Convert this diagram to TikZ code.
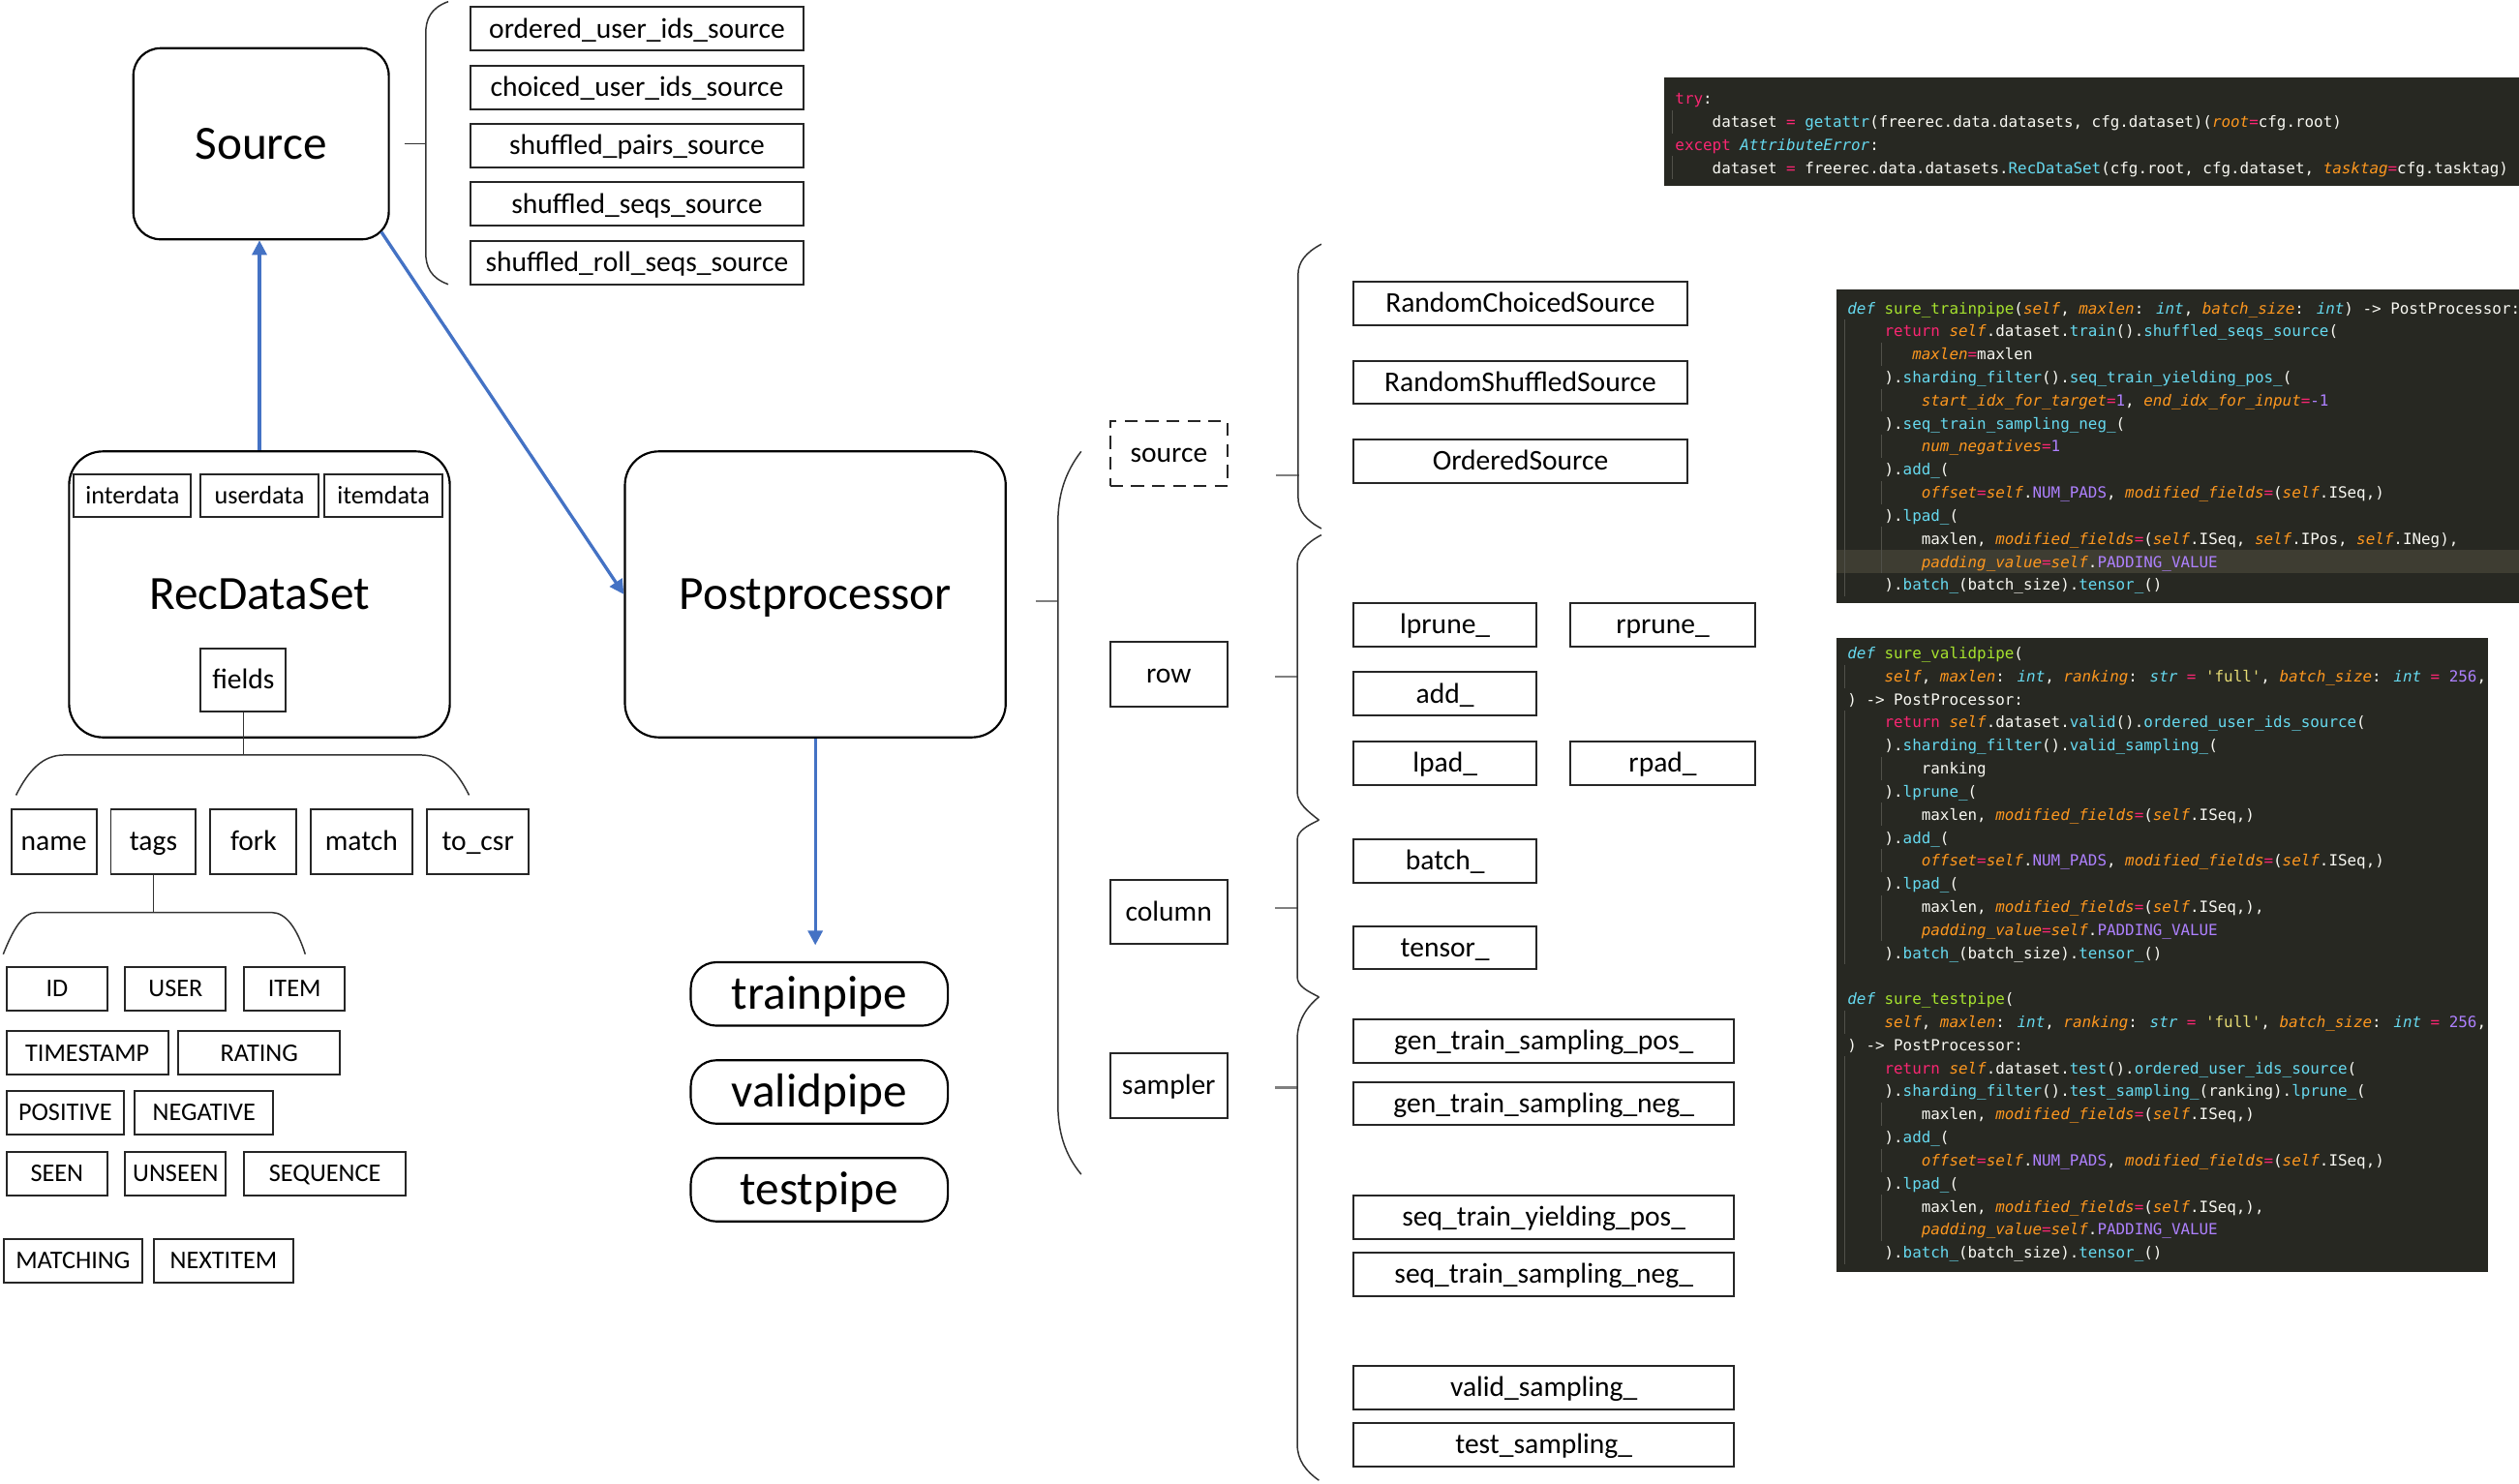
\documentclass[tikz,border=0pt]{standalone}
\usepackage{fontspec}
\setmainfont{Carlito}
\newfontfamily\codefont{DejaVu Sans Mono}
\usetikzlibrary{arrows.meta,calc}
\definecolor{mkbg}{HTML}{272822}
\definecolor{mkfg}{HTML}{F8F8F2}
\definecolor{mkred}{HTML}{F92672}
\definecolor{mkcyan}{HTML}{66D9EF}
\definecolor{mkgreen}{HTML}{A6E22E}
\definecolor{mkorange}{HTML}{FD971F}
\definecolor{mkpurple}{HTML}{AE81FF}
\definecolor{mkyellow}{HTML}{E6DB74}
\definecolor{mkhl}{HTML}{3E3D32}
\definecolor{mkguide}{HTML}{505049}
\definecolor{pblue}{HTML}{4472C4}
\definecolor{tickgray}{HTML}{7F7F7F}
\newcommand\kwR[1]{\textcolor{mkred}{#1}}
\newcommand\kwD[1]{\textcolor{mkcyan}{\itshape #1}}
\newcommand\fnG[1]{\textcolor{mkgreen}{#1}}
\newcommand\prO[1]{\textcolor{mkorange}{\itshape #1}}
\newcommand\mtC[1]{\textcolor{mkcyan}{#1}}
\newcommand\nmP[1]{\textcolor{mkpurple}{#1}}
\newcommand\stY[1]{\textcolor{mkyellow}{#1}}
\newcommand\qs{\textquotesingle}
\newcommand\pone[4]{\node[codetxt] (#1) at ({1042.6+5.761*#3},{64.8+14.4*#2}) {#4};}
\newcommand\ptwo[4]{\node[codetxt] (#1) at ({1149.8+5.761*#3},{195.3+14.35*#2}) {#4};}
\newcommand\pthree[4]{\node[codetxt] (#1) at ({1149.8+5.761*#3},{410.1+14.35*#2}) {#4};}
\newcommand\gone[3]{\draw[guideline] ({1041.1+5.761*#1},{54.1+14.4*#2}) -- ({1041.1+5.761*#1},{68.5+14.4*#3});}
\newcommand\gtwo[3]{\draw[guideline] ({1148.3+5.761*#1},{184.6+14.35*#2}) -- ({1148.3+5.761*#1},{199+14.35*#3});}
\newcommand\gthree[3]{\draw[guideline] ({1148.3+5.761*#1},{399.4+14.35*#2}) -- ({1148.3+5.761*#1},{413.8+14.35*#3});}
\begin{document}
\begin{tikzpicture}[x=1pt,y=-1pt,
  bigbox/.style={draw=black, line width=1.3pt, inner sep=0pt, fill=white,
    font=\fontsize{29.7}{34}\selectfont, text height=18.8pt, text depth=0pt},
  pipebox/.style={bigbox, rounded corners=16pt, minimum width=160pt, minimum height=39.5pt},
  itembox/.style={draw=black!85, line width=1.2pt, inner sep=0pt, fill=white,
    font=\fontsize{17.8}{20}\selectfont, text height=11.2pt, text depth=0pt, minimum height=27pt},
  capbox/.style={draw=black!85, line width=1.2pt, inner sep=0pt, fill=white,
    font=\fontsize{15.8}{18}\selectfont, text height=10pt, text depth=0pt, minimum height=27pt},
  inbox/.style={capbox, font=\fontsize{15.8}{18}\selectfont},
  bracepath/.style={draw=black!80, line width=0.9pt},
  tickline/.style={draw=tickgray, line width=1.3pt},
  barrow/.style={draw=pblue, line width=2pt, -{Triangle[length=9pt,width=9pt]}},
  codetxt/.style={anchor=base west, inner sep=0pt, text=mkfg,
    font=\codefont\fontsize{9.57}{11}\selectfont},
  guideline/.style={draw=mkguide, line width=0.8pt}
]
\useasboundingbox (0,0) rectangle (1568,923.8);

% ---------- Source ----------
\node[bigbox, rounded corners=17pt, minimum width=159pt, minimum height=119pt] (src) at (162.5,89.5) {Source};
\node[itembox, minimum width=207pt] (s1) at (396.5,18) {ordered\_user\_ids\_source};
\node[itembox, minimum width=207pt] (s2) at (396.5,54.3) {choiced\_user\_ids\_source};
\node[itembox, minimum width=207pt] (s3) at (396.5,90.5) {shuffled\_pairs\_source};
\node[itembox, minimum width=207pt] (s4) at (396.5,127) {shuffled\_seqs\_source};
\node[itembox, minimum width=207pt] (s5) at (396.5,163.5) {shuffled\_roll\_seqs\_source};
\draw[bracepath] (279,1) .. controls (268,5) and (265,12) .. (265,21) -- (265,157) .. controls (265,166) and (268,173) .. (279,177);
\draw[draw=black!80, line width=1.1pt] ([xshift=9pt]src.east) -- (265,89.5);

% ---------- RecDataSet ----------
\node[bigbox, rounded corners=21pt, minimum width=237pt, minimum height=178pt] (rec) at (161.5,370) {RecDataSet};
\node[inbox, minimum width=73pt] (inter) at (82.5,308.5) {interdata};
\node[inbox, minimum width=73pt] (userd) at (161.5,308.5) {userdata};
\node[inbox, minimum width=73.5pt] (itemd) at (238.75,308.5) {itemdata};
\node[itembox, minimum width=53pt, minimum height=39.5pt] (fields) at (151.5,423.3) {fields};
\coordinate (fbr) at (151.5,470);
\draw[bracepath] (fields.south) -- (fbr);
\draw[bracepath] (10,495) .. controls (18,479) and (27,470) .. (40,470) -- (262,470) .. controls (275,470) and (284,479) .. (292,495);

\node[itembox, minimum width=53pt, minimum height=40pt] (fname) at (33.5,524) {name};
\node[itembox, minimum width=53pt, minimum height=40pt] (ftags) at (95.5,524) {tags};
\node[itembox, minimum width=53.5pt, minimum height=40pt] (ffork) at (157.8,524) {fork};
\node[itembox, minimum width=63pt, minimum height=40pt] (fmatch) at (225,524) {match};
\node[itembox, minimum width=63pt, minimum height=40pt] (fcsr) at (297.5,524) {to\_csr};
\coordinate (tbr) at (95.5,568);
\draw[bracepath] (ftags.south) -- (tbr);
\draw[bracepath] (2,594) .. controls (8,579) and (14,568) .. (23,568) -- (169,568) .. controls (178,568) and (185,578) .. (190,594);

\node[capbox, minimum width=63pt] (tid) at (35.5,615.5) {ID};
\node[capbox, minimum width=62.6pt] (tuser) at (109.3,615.5) {USER};
\node[capbox, minimum width=62.6pt] (titem) at (183.3,615.5) {ITEM};
\node[capbox, minimum width=100.7pt] (tts) at (54.35,655.5) {TIMESTAMP};
\node[capbox, minimum width=100.8pt] (trat) at (161.4,655.5) {RATING};
\node[capbox, minimum width=73.2pt] (tpos) at (40.6,692.75) {POSITIVE};
\node[capbox, minimum width=86pt] (tneg) at (127,692.75) {NEGATIVE};
\node[capbox, minimum width=63pt] (tseen) at (35.5,730.5) {SEEN};
\node[capbox, minimum width=62.6pt] (tunseen) at (109.3,730.5) {UNSEEN};
\node[capbox, minimum width=100.5pt] (tseq) at (202.25,730.5) {SEQUENCE};
\node[capbox, minimum width=86.4pt] (tmatch) at (45.4,784.75) {MATCHING};
\node[capbox, minimum width=86.4pt] (tnext) at (139.2,784.75) {NEXTITEM};

% ---------- Postprocessor ----------
\node[bigbox, rounded corners=21pt, minimum width=237pt, minimum height=178pt] (post) at (507.5,370) {Postprocessor};
\node[pipebox] (train) at (510,618.75) {trainpipe};
\node[pipebox] (valid) at (510,679.75) {validpipe};
\node[pipebox] (test) at (510,740.6) {testpipe};

% ---------- blue arrows ----------
\draw[barrow] (rec.north) -- (rec.north |- src.south);
\draw[barrow] ([shift={(-5.3,-5.3)}]src.south east) -- (post.west);
\coordinate (tipT) at ($(post.south |- train.north)+(0,-10)$);
\draw[barrow] (post.south) -- (tipT);

% ---------- Postprocessor brace ----------
\draw[tickline] ([shift={(18,4)}]post.east) -- (658.5,374);
\draw[bracepath] (673,281) .. controls (663,294) and (658.5,308) .. (658.5,326) -- (658.5,687) .. controls (658.5,705) and (663,719) .. (673,731);

\node[itembox, dashed, dash pattern=on 8pt off 5pt, minimum width=73pt, minimum height=40pt] (psrc) at (727.6,282.4) {source};
\node[itembox, minimum width=73pt, minimum height=40pt] (prow) at (727.5,419.8) {row};
\node[itembox, minimum width=73pt, minimum height=40pt] (pcol) at (727.5,567.5) {column};
\node[itembox, minimum width=73pt, minimum height=40pt] (psamp) at (727.5,675.8) {sampler};

\draw[tickline] ([shift={(29.5,13.6)}]psrc.east) -- ++(14.5,0);
\draw[tickline] ([shift={(29,1.2)}]prow.east) -- ++(14.5,0);
\draw[tickline] ([shift={(29,-2.3)}]pcol.east) -- ++(14.5,0);
\draw[tickline] ([shift={(29,1.2)}]psamp.east) -- ++(14.5,0);

\draw[bracepath] (822.5,152) .. controls (813,157) and (808,163) .. (808,171) -- (808,309) .. controls (808,318) and (813,324) .. (822.5,329);
\draw[bracepath] (822.5,333) .. controls (813,338) and (807.5,344) .. (807.5,352) -- (807.5,493) .. controls (807.5,500) and (814,505) .. (821,510.5);
\draw[bracepath] (821,510.5) .. controls (814,514) and (807.5,517) .. (807.5,523) -- (807.5,608) .. controls (807.5,614) and (814,617) .. (821,620.6);
\draw[bracepath] (821,620.6) .. controls (813,627) and (807.5,636) .. (807.5,647) -- (807.5,899) .. controls (807.5,909) and (813,916) .. (821,921.5);

\node[itembox, minimum width=207.8pt] (rcs) at (946.4,189) {RandomChoicedSource};
\node[itembox, minimum width=207.8pt] (rss) at (946.4,238) {RandomShuffledSource};
\node[itembox, minimum width=207.8pt] (ords) at (946.4,287) {OrderedSource};

\node[itembox, minimum width=114pt] (lprune) at (899.5,389) {lprune\_};
\node[itembox, minimum width=114.6pt] (rprune) at (1035,389) {rprune\_};
\node[itembox, minimum width=114pt] (addn) at (899.5,432) {add\_};
\node[itembox, minimum width=114pt] (lpad) at (899.5,475) {lpad\_};
\node[itembox, minimum width=114.6pt] (rpad) at (1035,475) {rpad\_};

\node[itembox, minimum width=114pt] (batchn) at (899.5,536) {batch\_};
\node[itembox, minimum width=114pt] (tensorn) at (899.5,590) {tensor\_};

\node[itembox, minimum width=237pt] (gpos) at (961,648) {gen\_train\_sampling\_pos\_};
\node[itembox, minimum width=237pt] (gneg) at (961,687) {gen\_train\_sampling\_neg\_};
\node[itembox, minimum width=237pt] (spos) at (961,757.7) {seq\_train\_yielding\_pos\_};
\node[itembox, minimum width=237pt] (sneg) at (961,793.2) {seq\_train\_sampling\_neg\_};
\node[itembox, minimum width=237pt] (vsamp) at (961,863.6) {valid\_sampling\_};
\node[itembox, minimum width=237pt] (tsamp) at (961,899.4) {test\_sampling\_};

% ---------- code panels ----------
\fill[mkbg] (1036,48) rectangle (1568,116);
\fill[mkbg] (1143,180) rectangle (1568,375.5);
\fill[mkbg] (1143,397) rectangle (1548.5,792);
\fill[mkhl] (1143,342.45) rectangle (1568,356.85);

\gone{0}{1}{1}
\gone{0}{3}{3}
\gtwo{0}{1}{12}
\gtwo{4}{2}{2}
\gtwo{4}{4}{4}
\gtwo{4}{6}{6}
\gtwo{4}{8}{8}
\gtwo{4}{10}{11}
\gthree{0}{1}{1}
\gthree{0}{3}{13}
\gthree{0}{16}{16}
\gthree{0}{18}{26}
\gthree{4}{5}{5}
\gthree{4}{7}{7}
\gthree{4}{9}{9}
\gthree{4}{11}{12}
\gthree{4}{20}{20}
\gthree{4}{22}{22}
\gthree{4}{24}{25}

\pone{a0}{0}{0}{\kwR{try}:}
\pone{a1}{1}{4}{dataset \kwR{=} \mtC{getattr}(freerec.data.datasets, cfg.dataset)(\prO{root}\kwR{=}cfg.root)}
\pone{a2}{2}{0}{\kwR{except} \kwD{AttributeError}:}
\pone{a3}{3}{4}{dataset \kwR{=} freerec.data.datasets.\mtC{RecDataSet}(cfg.root, cfg.dataset, \prO{tasktag}\kwR{=}cfg.tasktag)}

\ptwo{b0}{0}{0}{\kwD{def} \fnG{sure\_trainpipe}(\prO{self}, \prO{maxlen}: \kwD{int}, \prO{batch\_size}: \kwD{int}) -> PostProcessor:}
\ptwo{b1}{1}{4}{\kwR{return} \prO{self}.dataset.\mtC{train}().\mtC{shuffled\_seqs\_source}(}
\ptwo{b2}{2}{7}{\prO{maxlen}\kwR{=}maxlen}
\ptwo{b3}{3}{4}{).\mtC{sharding\_filter}().\mtC{seq\_train\_yielding\_pos\_}(}
\ptwo{b4}{4}{8}{\prO{start\_idx\_for\_target}\kwR{=}\nmP{1}, \prO{end\_idx\_for\_input}\kwR{=}\nmP{-1}}
\ptwo{b5}{5}{4}{).\mtC{seq\_train\_sampling\_neg\_}(}
\ptwo{b6}{6}{8}{\prO{num\_negatives}\kwR{=}\nmP{1}}
\ptwo{b7}{7}{4}{).\mtC{add\_}(}
\ptwo{b8}{8}{8}{\prO{offset}\kwR{=}\prO{self}.\nmP{NUM\_PADS}, \prO{modified\_fields}\kwR{=}(\prO{self}.ISeq,)}
\ptwo{b9}{9}{4}{).\mtC{lpad\_}(}
\ptwo{b10}{10}{8}{maxlen, \prO{modified\_fields}\kwR{=}(\prO{self}.ISeq, \prO{self}.IPos, \prO{self}.INeg),}
\ptwo{b11}{11}{8}{\prO{padding\_value}\kwR{=}\prO{self}.\nmP{PADDING\_VALUE}}
\ptwo{b12}{12}{4}{).\mtC{batch\_}(batch\_size).\mtC{tensor\_}()}

\pthree{c0}{0}{0}{\kwD{def} \fnG{sure\_validpipe}(}
\pthree{c1}{1}{4}{\prO{self}, \prO{maxlen}: \kwD{int}, \prO{ranking}: \kwD{str} \kwR{=} \stY{\qs full\qs}, \prO{batch\_size}: \kwD{int} \kwR{=} \nmP{256},}
\pthree{c2}{2}{0}{) -> PostProcessor:}
\pthree{c3}{3}{4}{\kwR{return} \prO{self}.dataset.\mtC{valid}().\mtC{ordered\_user\_ids\_source}(}
\pthree{c4}{4}{4}{).\mtC{sharding\_filter}().\mtC{valid\_sampling\_}(}
\pthree{c5}{5}{8}{ranking}
\pthree{c6}{6}{4}{).\mtC{lprune\_}(}
\pthree{c7}{7}{8}{maxlen, \prO{modified\_fields}\kwR{=}(\prO{self}.ISeq,)}
\pthree{c8}{8}{4}{).\mtC{add\_}(}
\pthree{c9}{9}{8}{\prO{offset}\kwR{=}\prO{self}.\nmP{NUM\_PADS}, \prO{modified\_fields}\kwR{=}(\prO{self}.ISeq,)}
\pthree{c10}{10}{4}{).\mtC{lpad\_}(}
\pthree{c11}{11}{8}{maxlen, \prO{modified\_fields}\kwR{=}(\prO{self}.ISeq,),}
\pthree{c12}{12}{8}{\prO{padding\_value}\kwR{=}\prO{self}.\nmP{PADDING\_VALUE}}
\pthree{c13}{13}{4}{).\mtC{batch\_}(batch\_size).\mtC{tensor\_}()}

\pthree{d0}{15}{0}{\kwD{def} \fnG{sure\_testpipe}(}
\pthree{d1}{16}{4}{\prO{self}, \prO{maxlen}: \kwD{int}, \prO{ranking}: \kwD{str} \kwR{=} \stY{\qs full\qs}, \prO{batch\_size}: \kwD{int} \kwR{=} \nmP{256},}
\pthree{d2}{17}{0}{) -> PostProcessor:}
\pthree{d3}{18}{4}{\kwR{return} \prO{self}.dataset.\mtC{test}().\mtC{ordered\_user\_ids\_source}(}
\pthree{d4}{19}{4}{).\mtC{sharding\_filter}().\mtC{test\_sampling\_}(ranking).\mtC{lprune\_}(}
\pthree{d5}{20}{8}{maxlen, \prO{modified\_fields}\kwR{=}(\prO{self}.ISeq,)}
\pthree{d6}{21}{4}{).\mtC{add\_}(}
\pthree{d7}{22}{8}{\prO{offset}\kwR{=}\prO{self}.\nmP{NUM\_PADS}, \prO{modified\_fields}\kwR{=}(\prO{self}.ISeq,)}
\pthree{d8}{23}{4}{).\mtC{lpad\_}(}
\pthree{d9}{24}{8}{maxlen, \prO{modified\_fields}\kwR{=}(\prO{self}.ISeq,),}
\pthree{d10}{25}{8}{\prO{padding\_value}\kwR{=}\prO{self}.\nmP{PADDING\_VALUE}}
\pthree{d11}{26}{4}{).\mtC{batch\_}(batch\_size).\mtC{tensor\_}()}
\end{tikzpicture}
\end{document}
